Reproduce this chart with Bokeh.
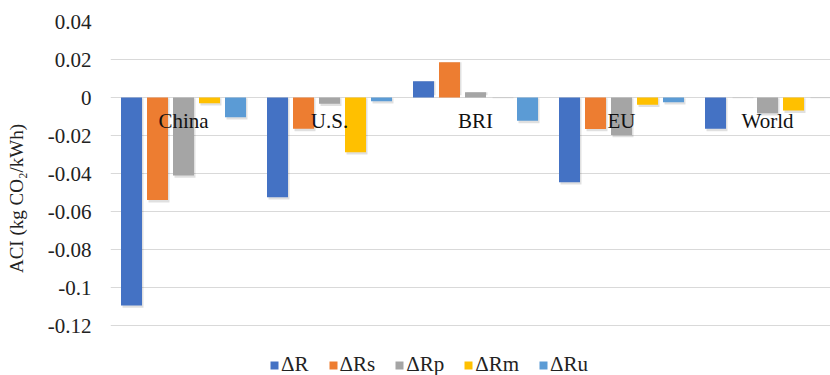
from bokeh.plotting import figure
from bokeh.models import (ColumnDataSource, Range1d, FixedTicker, CustomJSTickFormatter,
                          Legend, LegendItem)
from bokeh.core.properties import value
from bokeh.embed import file_html
from bokeh.resources import INLINE

# ---- data ----
categories = ["China", "U.S.", "BRI", "EU", "World"]
series = ["ΔR", "ΔRs", "ΔRp", "ΔRm", "ΔRu"]
dR  = [-0.1095, -0.0525, 0.0085, -0.0446, -0.0165]
dRs = [-0.0540, -0.0165, 0.0185, -0.0166, 0.0]
dRp = [-0.0410, -0.0033, 0.0027, -0.0197, -0.0083]
dRm = [-0.0030, -0.0288, 0.0, -0.0038, -0.0069]
dRu = [-0.0104, -0.0020, -0.0123, -0.0025, 0.0]
tick_values = [0.04, 0.02, 0.0, -0.02, -0.04, -0.06, -0.08, -0.1, -0.12]
tick_labels = ["0.04", "0.02", "0", "-0.02", "-0.04", "-0.06", "-0.08", "-0.1", "-0.12"]
y_label = "ACI (kg CO₂/kWh)"

colors = ["#4472C4", "#ED7D31", "#A5A5A5", "#FFC000", "#5B9BD5"]
values = [dR, dRs, dRp, dRm, dRu]

FONT = "Liberation Serif"
W, H = 830, 375
LEFT, TOP = 110, 21
frame_w = W - LEFT
frame_h = H - TOP
group_px = 146.0
px_per_unit = 38.0 / 0.02
step = 26.0 / group_px
bar_w = 21.0 / group_px
y_top = 0.04
y_bot = y_top - frame_h / px_per_unit

p = figure(width=W, height=H, output_backend="svg", toolbar_location=None,
           x_range=Range1d(0, frame_w / group_px), y_range=Range1d(y_bot, y_top),
           min_border_left=LEFT, min_border_right=0, min_border_top=TOP,
           min_border_bottom=0)
p.outline_line_color = None
p.background_fill_color = "white"
p.border_fill_color = "white"

centers = [i + 0.5 for i in range(len(categories))]
renderers = []
for j, (name, vals, col) in enumerate(zip(series, values, colors)):
    xs = [c + (j - 2) * step for c in centers]
    src = ColumnDataSource(dict(x=xs, top=vals))
    # soft shadow
    sh = ColumnDataSource(dict(x=[x + 1.5 / group_px for x in xs],
                               top=[v - (0.0012 if v < 0 else 0) for v in vals],
                               bottom=[0.0012 if v > 0 else -0.0004 for v in vals]))
    p.vbar(x="x", top="top", bottom="bottom", width=bar_w, source=sh,
           fill_color="black", fill_alpha=0.12, line_color=None)
    r = p.vbar(x="x", top="top", bottom=0, width=bar_w, source=src,
               fill_color=col, line_color=None)
    renderers.append(r)

# category labels
p.text(x=centers, y=[0] * len(categories), text=categories,
       text_font=value(FONT), text_font_size="21px", text_color="#111111",
       text_align="center", text_baseline="middle", y_offset=23)

p.xaxis.visible = False
p.xgrid.visible = False
p.ygrid.grid_line_color = "#D9D9D9"
p.ygrid.grid_line_width = 1
p.yaxis.ticker = FixedTicker(ticks=tick_values)
p.yaxis.formatter = CustomJSTickFormatter(args=dict(vals=tick_values, labs=tick_labels), code="""
    let best = 0, d = 1e9;
    for (let i = 0; i < vals.length; i++) {
        const e = Math.abs(vals[i] - tick);
        if (e < d) { d = e; best = i; }
    }
    return labs[best];
""")
p.yaxis.axis_line_color = None
p.yaxis.major_tick_line_color = None
p.yaxis.minor_tick_line_color = None
p.yaxis.major_label_text_font = FONT
p.yaxis.major_label_text_font_size = "21px"
p.yaxis.major_label_text_color = "#222222"
p.yaxis.major_label_standoff = 13
p.yaxis.axis_label = y_label
p.yaxis.axis_label_text_font = FONT
p.yaxis.axis_label_text_font_size = "19px"
p.yaxis.axis_label_text_font_style = "normal"
p.yaxis.axis_label_text_color = "#222222"
p.yaxis.axis_label_standoff = 18

legend = Legend(items=[LegendItem(label=n, renderers=[r]) for n, r in zip(series, renderers)],
                orientation="horizontal", location=(159, -2),
                glyph_width=10, glyph_height=10, label_standoff=2, spacing=19,
                padding=0, margin=0, border_line_color=None, background_fill_alpha=0,
                label_text_font=FONT, label_text_font_size="21px",
                label_text_color="#222222", label_height=20)
p.add_layout(legend, "center")

open("out.html", "w").write(file_html(p, INLINE))
